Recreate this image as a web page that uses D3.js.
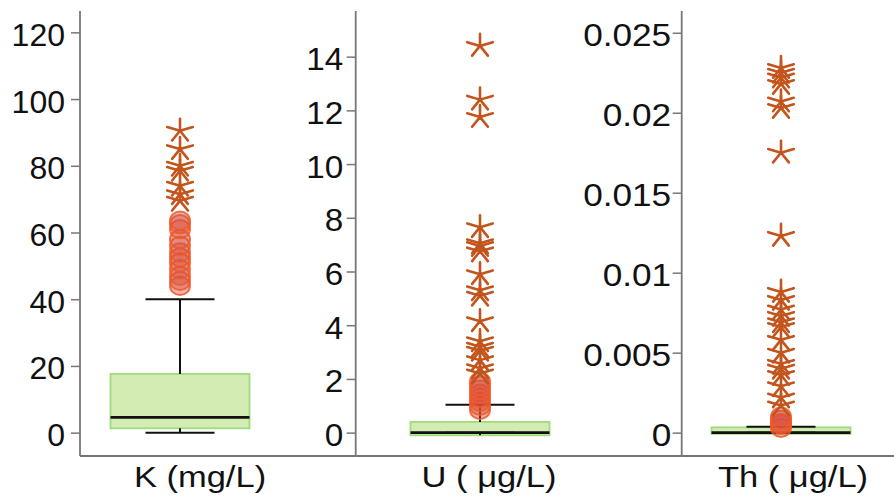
<!DOCTYPE html>
<html><head><meta charset="utf-8">
<script src="https://cdn.jsdelivr.net/npm/d3@7"></script>
<style>body{margin:0;background:#fff}svg{display:block}text{font-family:"Liberation Sans",Arial,sans-serif}</style>
</head><body><svg id="c" width="894" height="497"></svg>
<script>
// ---- data ----
const categories = ["K (mg/L)", "U ( μg/L)", "Th ( μg/L)"];
const boxStats = [ // [lowerWhisker, q1, median, q3, upperWhisker]
  [0, 1.3, 4.6, 17.6, 40],
  [0, -0.1, 0, 0.4, 1.04],
  [0, -0.00008, 0, 0.00033, 0.00037]
];
const circleOutliers = [
  [44, 45.5, 47, 49, 51, 52.5, 54, 56, 58, 61, 62.5, 63.5],
  [0.85, 1.0, 1.15, 1.3, 1.45, 1.6, 1.75, 1.9],
  [0.0003, 0.0005, 0.0006, 0.0008, 0.001]
];
const starOutliers = [
  [69.5, 71.5, 74, 78.5, 80, 85, 90.5],
  [2.2, 2.4, 2.7, 3.05, 3.2, 3.4, 4.15, 5.1, 5.3, 5.9, 6.75, 6.95, 7.05, 7.65, 11.75, 12.4, 14.4],
  [0.0017, 0.0022, 0.0029, 0.0036, 0.004, 0.0043, 0.005, 0.0058, 0.0066, 0.0069, 0.0073, 0.0077, 0.0083, 0.0088,
   0.0123, 0.0175, 0.0203, 0.0207, 0.0218, 0.0222, 0.0225, 0.0228]
];
const yDomains = [[-7, 126.4], [-0.87, 15.7], [-0.00146, 0.02636]];
const tickValues = [
  [0, 20, 40, 60, 80, 100, 120],
  [0, 2, 4, 6, 8, 10, 12, 14],
  [0, 0.005, 0.01, 0.015, 0.02, 0.025]
];
const tickLabels = [
  ["0", "20", "40", "60", "80", "100", "120"],
  ["0", "2", "4", "6", "8", "10", "12", "14"],
  ["0", "0.005", "0.01", "0.015", "0.02", "0.025"]
];

// ---- layout ----
const panels = [
  {x0: 80, x1: 355.7, cx: 180, lx: 200, gap: 15, sx: 1.0},
  {x0: 355.7, x1: 681.7, cx: 480, lx: 489, gap: 12.5, sx: 1.04},
  {x0: 681.7, x1: 894, cx: 781, lx: 793, gap: 10.5, sx: 1.1}
];
const plotTop = 11, plotBottom = 456;
const boxW = 139, capW = 69;
const svg = d3.select("#c");

const starPath = (() => {
  const L = 12, sx = 1.12;
  let p = "";
  for (let k = 0; k < 5; k++) {
    const a = (-90 + k * 72) * Math.PI / 180;
    p += `M0,0L${(L * Math.cos(a) * sx).toFixed(2)},${(L * Math.sin(a)).toFixed(2)}`;
  }
  return p;
})();

panels.forEach((P, i) => {
  const y = d3.scaleLinear().domain(yDomains[i]).range([plotBottom, plotTop]);
  const x = d3.scaleLinear().domain([0, 1]).range([P.x0, P.x1]);
  const cx = P.cx;
  const g = svg.append("g");
  const s = boxStats[i];

  // box
  g.append("rect").attr("x", cx - boxW / 2).attr("width", boxW)
    .attr("y", y(s[3])).attr("height", y(s[1]) - y(s[3]))
    .attr("fill", "#d3ecb4").attr("stroke", "#9fdc7c").attr("stroke-width", 1.8);
  // whiskers
  g.append("line").attr("x1", cx).attr("x2", cx).attr("y1", y(s[3])).attr("y2", y(s[4]))
    .attr("stroke", "#111").attr("stroke-width", 2);
  g.append("line").attr("x1", cx).attr("x2", cx).attr("y1", y(s[1])).attr("y2", y(s[0]))
    .attr("stroke", "#111").attr("stroke-width", 2);
  g.append("line").attr("x1", cx - capW / 2).attr("x2", cx + capW / 2).attr("y1", y(s[4])).attr("y2", y(s[4]))
    .attr("stroke", "#111").attr("stroke-width", 2);
  g.append("line").attr("x1", cx - capW / 2).attr("x2", cx + capW / 2).attr("y1", y(s[0])).attr("y2", y(s[0]))
    .attr("stroke", "#111").attr("stroke-width", 2);
  // median
  g.append("line").attr("x1", cx - boxW / 2).attr("x2", cx + boxW / 2).attr("y1", y(s[2])).attr("y2", y(s[2]))
    .attr("stroke", "#111").attr("stroke-width", 2.8);

  // circle outliers
  g.selectAll("ellipse.o").data(circleOutliers[i]).join("ellipse")
    .attr("cx", cx).attr("cy", d => y(d)).attr("rx", 10).attr("ry", 9.2)
    .attr("fill", "rgba(214,78,62,0.42)").attr("stroke", "rgba(238,88,40,0.85)").attr("stroke-width", 2);
  // star outliers
  g.selectAll("path.s").data(starOutliers[i]).join("path")
    .attr("transform", d => `translate(${cx},${y(d)})`).attr("d", starPath)
    .attr("fill", "none").attr("stroke", "#c2541c").attr("stroke-width", 2.6).attr("stroke-linecap", "round");

  // x axis line
  g.append("line").attr("x1", x(0)).attr("x2", x(1)).attr("y1", plotBottom).attr("y2", plotBottom)
    .attr("stroke", "#444").attr("stroke-width", 1.5);
  // y axis
  const ax = d3.axisLeft(y).tickValues(tickValues[i]).tickFormat((d, j) => tickLabels[i][j])
    .tickSize(9).tickPadding(4).tickSizeOuter(0);
  const ag = svg.append("g").attr("transform", `translate(${P.x0},0)`).call(ax);
  ag.select(".domain").attr("d", `M0,${plotTop}V${plotBottom}`).attr("stroke", "#777").attr("stroke-width", 1.8);
  ag.selectAll(".tick line").attr("stroke", "#777").attr("stroke-width", 1.5);
  ag.selectAll(".tick text").attr("font-size", 32).attr("fill", "#111").attr("dy", null).attr("y", 13)
    .attr("x", -P.gap / P.sx).attr("transform", `scale(${P.sx},1)`)
    .attr("font-family", "Liberation Sans, Arial, sans-serif");

  // x label
  svg.append("text").attr("transform", `translate(${P.lx},486.5) scale(1.15,1)`)
    .attr("text-anchor", "middle").attr("font-size", 30).attr("fill", "#111").text(categories[i]);
});
</script></body></html>
